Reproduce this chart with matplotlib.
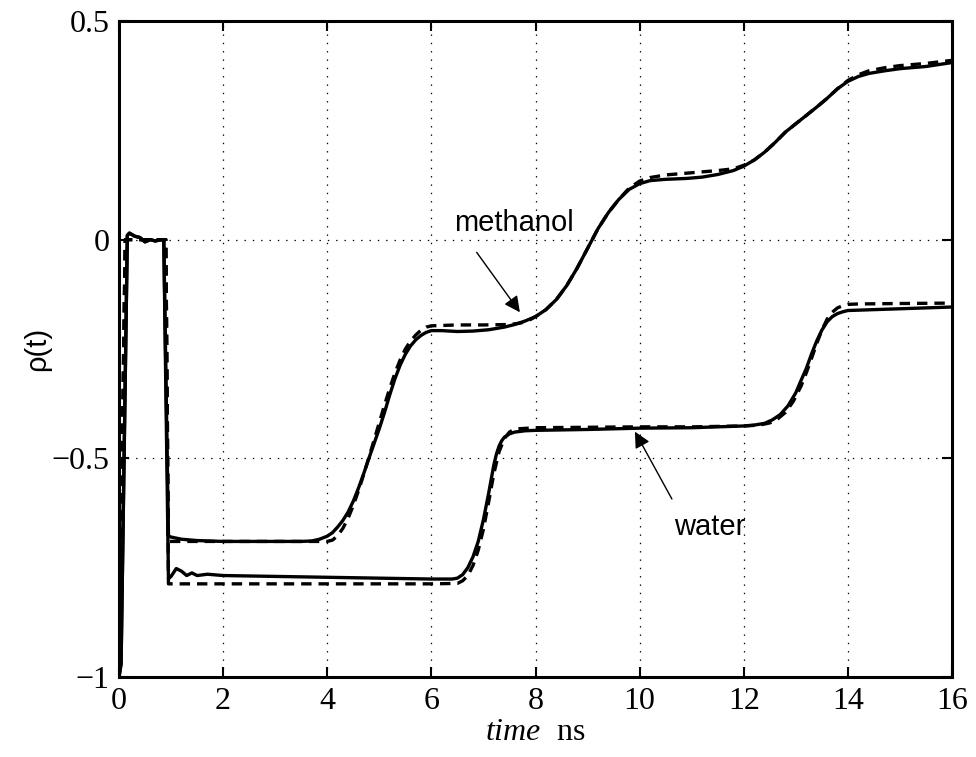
import matplotlib
matplotlib.use("Agg")
import matplotlib.pyplot as plt

plt.rcParams['lines.scale_dashes'] = False
plt.rcParams['mathtext.fontset'] = 'custom'
plt.rcParams['mathtext.rm'] = 'Liberation Serif'
plt.rcParams['mathtext.it'] = 'Liberation Serif:italic'

# ---- data ----
t_meth = [0.0, 0.04, 0.16, 0.2, 0.3, 0.4, 0.5, 0.6, 0.7, 0.8, 0.86, 0.95, 1.0, 1.2, 1.5, 2.0,
          2.5, 3.0, 3.5, 3.7, 3.85, 4.0, 4.1, 4.2, 4.3, 4.4, 4.5, 4.6, 4.7, 4.8, 4.9, 5.0,
          5.1, 5.2, 5.3, 5.4, 5.5, 5.6, 5.7, 5.8, 5.9, 6.0, 6.2, 6.5, 6.8, 7.1, 7.4, 7.6,
          7.8, 8.0, 8.2, 8.4, 8.6, 8.8, 9.0, 9.2, 9.4, 9.6, 9.8, 10.0, 10.2, 10.5, 10.9,
          11.2, 11.5, 11.8, 12.0, 12.2, 12.4, 12.6, 12.8, 13.0, 13.2, 13.4, 13.6, 13.8,
          14.0, 14.2, 14.4, 14.7, 15.0, 15.5, 16.0]
rho_meth = [-1.0, -0.97, 0.01, 0.015, 0.008, 0.005, -0.005, 0.0, -0.003, 0.0, 0.0, -0.678,
            -0.68, -0.685, -0.688, -0.69, -0.69, -0.69, -0.69, -0.689, -0.685, -0.678, -0.67,
            -0.657, -0.642, -0.623, -0.598, -0.568, -0.535, -0.5, -0.466, -0.432, -0.395,
            -0.355, -0.318, -0.287, -0.262, -0.243, -0.229, -0.219, -0.212, -0.208, -0.208,
            -0.21, -0.209, -0.206, -0.2, -0.194, -0.186, -0.176, -0.16, -0.137, -0.105,
            -0.065, -0.02, 0.025, 0.062, 0.092, 0.115, 0.128, 0.135, 0.138, 0.14, 0.143,
            0.149, 0.158, 0.168, 0.182, 0.2, 0.222, 0.246, 0.265, 0.284, 0.303, 0.323, 0.345,
            0.362, 0.373, 0.38, 0.386, 0.391, 0.396, 0.405]

t_meth_fit = [0.0, 0.12, 0.5, 0.9, 0.95, 1.0, 2.0, 3.0, 4.0, 4.1, 4.2, 4.3, 4.4, 4.5, 4.6,
              4.7, 4.8, 4.9, 5.0, 5.1, 5.2, 5.3, 5.4, 5.5, 5.6, 5.7, 5.8, 5.9, 6.0, 6.5, 7.0,
              7.5, 7.7, 7.85, 8.0, 8.2, 8.4, 8.6, 8.8, 9.0, 9.2, 9.4, 9.6, 9.8, 10.0, 10.2,
              10.5, 11.0, 11.5, 11.8, 12.0, 12.2, 12.4, 12.6, 12.8, 13.0, 13.2, 13.4, 13.6,
              13.8, 14.0, 14.2, 14.4, 14.7, 15.0, 15.5, 16.0]
rho_meth_fit = [-1.0, 0.0, 0.0, 0.0, -0.69, -0.69, -0.69, -0.69, -0.69, -0.687, -0.677,
                -0.66, -0.637, -0.608, -0.574, -0.537, -0.498, -0.458, -0.418, -0.378,
                -0.34, -0.305, -0.275, -0.25, -0.232, -0.218, -0.207, -0.2, -0.197, -0.195,
                -0.195, -0.194, -0.191, -0.186, -0.176, -0.16, -0.137, -0.105, -0.065,
                -0.02, 0.025, 0.062, 0.092, 0.118, 0.134, 0.142, 0.148, 0.153, 0.158, 0.162,
                0.17, 0.182, 0.2, 0.222, 0.246, 0.265, 0.284, 0.303, 0.323, 0.345, 0.364,
                0.377, 0.386, 0.393, 0.398, 0.403, 0.41]

t_water = [0.0, 0.04, 0.16, 0.2, 0.3, 0.4, 0.5, 0.6, 0.7, 0.8, 0.86, 0.95, 1.0, 1.1, 1.2, 1.3,
           1.4, 1.5, 1.7, 2.0, 2.5, 3.0, 4.0, 5.0, 6.0, 6.4, 6.5, 6.6, 6.7, 6.8, 6.9, 7.0,
           7.1, 7.2, 7.25, 7.3, 7.35, 7.4, 7.5, 7.6, 7.8, 8.0, 9.0, 10.0, 11.0, 12.0, 12.2,
           12.4, 12.55, 12.7, 12.85, 13.0, 13.1, 13.2, 13.3, 13.4, 13.5, 13.6, 13.7, 13.8,
           13.9, 14.0, 14.75, 15.5, 16.0]
rho_water = [-1.0, -0.97, 0.01, 0.015, 0.008, 0.005, -0.005, 0.0, -0.003, 0.0, 0.0, -0.775,
             -0.77, -0.752, -0.758, -0.768, -0.762, -0.768, -0.765, -0.768, -0.769, -0.77,
             -0.772, -0.774, -0.776, -0.776, -0.774, -0.766, -0.75, -0.725, -0.69, -0.64,
             -0.58, -0.515, -0.49, -0.472, -0.46, -0.452, -0.444, -0.44, -0.437, -0.436,
             -0.434, -0.431, -0.43, -0.426, -0.424, -0.42, -0.412, -0.4, -0.38, -0.35,
             -0.322, -0.295, -0.262, -0.232, -0.207, -0.188, -0.176, -0.169, -0.165, -0.162,
             -0.159, -0.156, -0.154]

t_water_fit = [0.0, 0.12, 0.5, 0.9, 0.95, 1.0, 2.0, 4.0, 6.0, 6.5, 6.6, 6.7, 6.8, 6.9, 7.0,
               7.1, 7.2, 7.3, 7.4, 7.5, 7.6, 8.0, 9.0, 10.0, 11.0, 12.0, 12.3, 12.5, 12.65,
               12.8, 12.95, 13.1, 13.2, 13.3, 13.4, 13.5, 13.6, 13.7, 13.8, 13.9, 14.0, 14.2,
               15.0, 16.0]
rho_water_fit = [-1.0, 0.0, 0.0, 0.0, -0.787, -0.787, -0.787, -0.787, -0.787, -0.786, -0.78,
                 -0.768, -0.745, -0.71, -0.662, -0.6, -0.535, -0.485, -0.455, -0.44, -0.433,
                 -0.43, -0.429, -0.428, -0.428, -0.426, -0.424, -0.419, -0.41, -0.395, -0.37,
                 -0.335, -0.305, -0.272, -0.238, -0.207, -0.182, -0.166, -0.156, -0.151,
                 -0.148, -0.147, -0.146, -0.145]

x_ticks = [0, 2, 4, 6, 8, 10, 12, 14, 16]
y_ticks = [-1, -0.5, 0, 0.5]
y_tick_labels = ['\u22121', '\u22120.5', '0', '0.5']

# annotation positions (data coords): text, arrow tail, arrow head
meth_text = (7.59, 0.039)
meth_tail = (6.87, -0.029)
meth_head = (7.70, -0.166)
water_text = (11.34, -0.657)
water_tail = (10.62, -0.593)
water_head = (9.91, -0.439)

# ---- figure ----
fig = plt.figure(figsize=(9.76, 7.57), dpi=100)
ax = fig.add_axes([119 / 976, (757 - 677) / 757, 833 / 976, 656 / 757])

ax.plot(t_meth, rho_meth, color='k', lw=2.4, solid_joinstyle='round')
ax.plot(t_water, rho_water, color='k', lw=2.4, solid_joinstyle='round')
ax.plot(t_meth_fit, rho_meth_fit, color='k', lw=2.4, dashes=(7.5, 5))
ax.plot(t_water_fit, rho_water_fit, color='k', lw=2.4, dashes=(7.5, 5))

ax.set_xlim(0, 16)
ax.set_ylim(-1, 0.5)
ax.set_xticks(x_ticks)
ax.set_xticklabels([str(v) for v in x_ticks])
ax.set_yticks(y_ticks)
ax.set_yticklabels(y_tick_labels)

ax.grid(True, color='k', lw=0.9, linestyle=(0, (1, 5)))
ax.tick_params(direction='in', length=7, width=1.5, top=True, right=True,
               labelsize=23, pad=7)
for lab in ax.get_xticklabels() + ax.get_yticklabels():
    lab.set_fontfamily('Liberation Serif')
for s in ax.spines.values():
    s.set_linewidth(2.2)

ax.set_xlabel(r'$\mathit{time}$  ns', fontsize=23, family='Liberation Serif', labelpad=2)
ax.set_ylabel('\u03c1(t)', fontsize=21, family='Liberation Sans', labelpad=0)

ax.text(*meth_text, 'methanol', ha='center', va='center', fontsize=21,
        family='Liberation Sans')
ax.text(*water_text, 'water', ha='center', va='center', fontsize=21,
        family='Liberation Sans')
arrow_props = dict(arrowstyle='-|>', color='k', lw=1.0, mutation_scale=24,
                   shrinkA=0, shrinkB=0)
ax.annotate('', xy=meth_head, xytext=meth_tail, arrowprops=arrow_props)
ax.annotate('', xy=water_head, xytext=water_tail, arrowprops=arrow_props)

fig.savefig('out.png', dpi=100)
